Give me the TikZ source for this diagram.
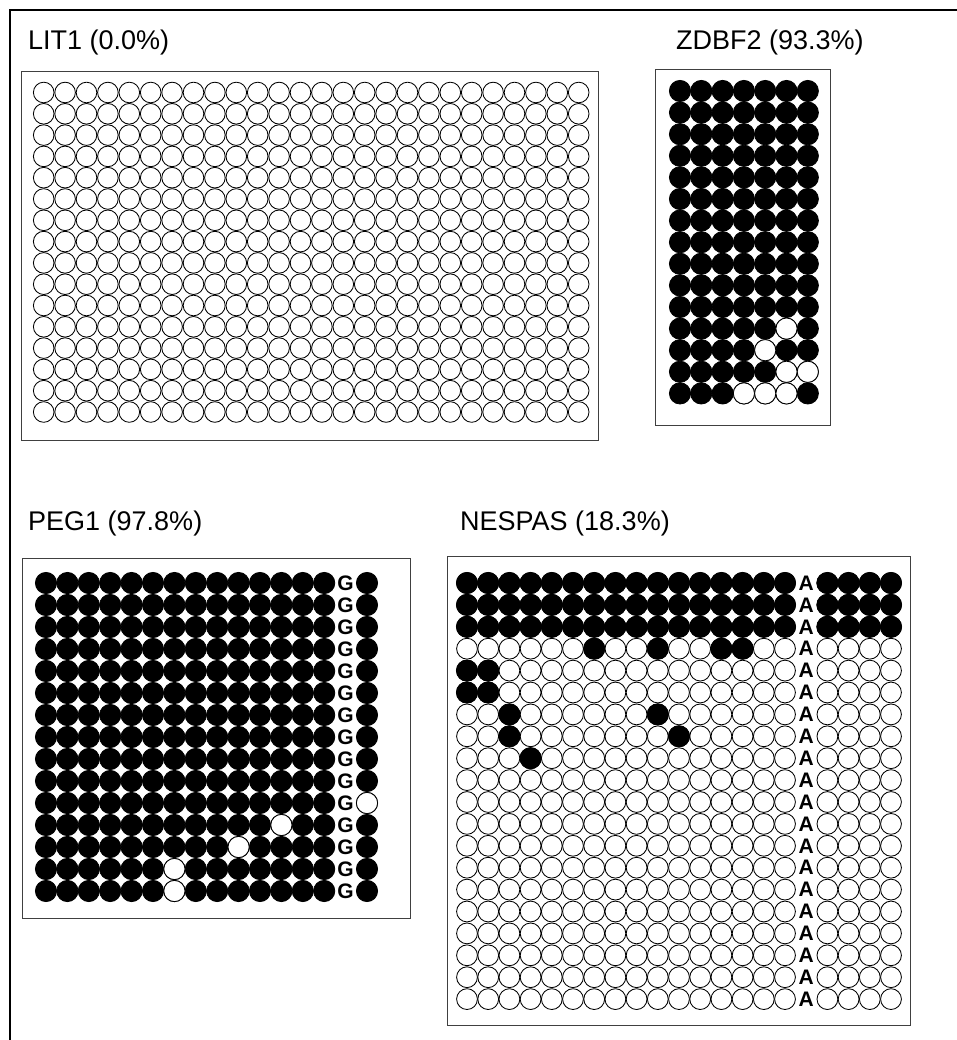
\documentclass[tikz,border=0pt]{standalone}
\usepackage{fontspec}
\setmainfont{Liberation Sans}

\tikzset{
  frame/.style={draw=black, line width=1.6pt},
  panel/.style={draw=black!75, line width=1pt},
  unmeth/.style={draw=black, fill=white, line width=0.85pt},
  meth/.style={draw=black, fill=black, line width=0.85pt},
  gene/.style={anchor=base west, inner sep=0pt, font=\fontsize{27}{32}\selectfont},
  snp/.style={inner sep=0pt, font=\bfseries\fontsize{21}{25}\selectfont}
}

\begin{document}
\begin{tikzpicture}[x=1pt, y=-1pt]
\useasboundingbox (0,0) rectangle (957,1040);
\draw[frame] (10,1040) -- (10,10) -- (957,10);

% LIT1, all unmethylated
\node[gene] (lit1) at (28,50) {LIT1 (0.0\%)};
\draw[panel] (21,72) rectangle (598,440);
\begin{scope}[shift={(43.7,92.5)}, x=21.4pt, y=-21.3pt]
  \foreach \r in {0,...,15}
    \foreach \c in {0,...,25}
      \draw[unmeth] (\c,\r) circle[radius=10.3pt];
\end{scope}

% ZDBF2
\node[gene] (zdbf2) at (676,50) {ZDBF2 (93.3\%)};
\draw[panel] (655,70) rectangle (830,425);
\begin{scope}[shift={(680,91)}, x=21.3pt, y=-21.6pt]
  \foreach \r in {0,...,14}
    \foreach \c in {0,...,6}
      \draw[meth] (\c,\r) circle[radius=10.6pt];
  \foreach \c/\r in {5/11,4/12,5/13,6/13,3/14,4/14,5/14}
    \draw[unmeth] (\c,\r) circle[radius=10.6pt];
\end{scope}

% PEG1
\node[gene] (peg1) at (28,530) {PEG1 (97.8\%)};
\draw[panel] (22,558) rectangle (410,918);
\begin{scope}[shift={(46,583)}, x=21.4pt, y=-22pt]
  \foreach \r in {0,...,14} {
    \foreach \c in {0,...,13,15}
      \draw[meth] (\c,\r) circle[radius=10.6pt];
    \node[snp] (peg-g\r) at (14,\r) {G};
  }
  \foreach \c/\r in {15/10,11/11,9/12,6/13,6/14}
    \draw[unmeth] (\c,\r) circle[radius=10.6pt];
\end{scope}

% NESPAS
\node[gene] (nespas) at (460,530) {NESPAS (18.3\%)};
\draw[panel] (447,556) rectangle (910,1025);
\begin{scope}[shift={(467,583)}, x=21.2pt, y=-21.9pt]
  \foreach \r in {0,...,19} {
    \foreach \c in {0,...,15,17,18,19,20}
      \draw[unmeth] (\c,\r) circle[radius=10.4pt];
    \node[snp] (nes-a\r) at (16,\r) {A};
  }
  \foreach \r in {0,1,2}
    \foreach \c in {0,...,15,17,18,19,20}
      \draw[meth] (\c,\r) circle[radius=10.6pt];
  \foreach \c/\r in {6/3,9/3,12/3,13/3,0/4,1/4,0/5,1/5,2/6,9/6,2/7,10/7,3/8}
    \draw[meth] (\c,\r) circle[radius=10.6pt];
\end{scope}
\end{tikzpicture}
\end{document}
